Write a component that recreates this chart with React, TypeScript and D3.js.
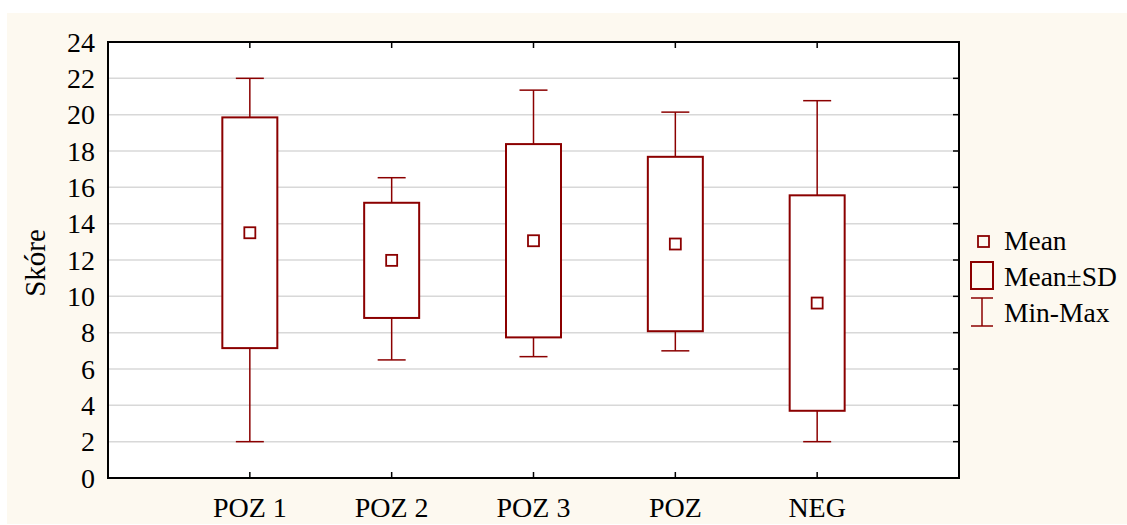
import React from 'react';
import * as d3 from 'd3';

// values
const groups = ['POZ 1', 'POZ 2', 'POZ 3', 'POZ', 'NEG'];
const means = [13.5, 11.98, 13.06, 12.88, 9.63];
const sds = [6.35, 3.17, 5.32, 4.8, 5.93];
const mins = [2, 6.5, 6.68, 7.0, 2.0];
const maxs = [22, 16.53, 21.35, 20.14, 20.77];
const yTicks = [0, 2, 4, 6, 8, 10, 12, 14, 16, 18, 20, 22, 24];
const legendLabels = ['Mean', 'Mean±SD', 'Min-Max'];

const W = 1127;
const H = 525;
const RED = '#8b0000';
const FONT = '"Liberation Serif", "Times New Roman", serif';

const App = () => {
  const left = 108;
  const right = 959;
  const top = 42;
  const bottom = 478;

  const x = d3.scaleLinear().domain([0, groups.length + 1]).range([left, right]);
  const y = d3.scaleLinear().domain([0, 24]).range([bottom, top]);

  const boxHalf = 27.5;
  const capHalf = 14;
  const meanSize = 11;

  return (
    <svg width={W} height={H} style={{ position: 'absolute', left: 0, top: 0 }} fontFamily={FONT}>
      <rect x={0} y={0} width={W} height={H} fill="#ffffff" />
      <rect x={7} y={13} width={W - 7} height={H - 14} fill="#fdf9f0" />
      <rect x={left} y={top} width={right - left} height={bottom - top} fill="#ffffff" />

      {/* grid lines */}
      {yTicks.filter((t) => t > 0 && t < 24).map((t) => (
        <g key={t}>
          <line x1={left} x2={right} y1={y(t)} y2={y(t)} stroke="#d8d8d8" strokeWidth={1.5} />
          <line x1={right - 6} x2={right} y1={y(t)} y2={y(t)} stroke="#000" strokeWidth={1.5} />
        </g>
      ))}

      {/* category ticks top and bottom */}
      {groups.map((g, i) => (
        <g key={g}>
          <line x1={x(i + 1)} x2={x(i + 1)} y1={top} y2={top + 6} stroke="#000" strokeWidth={1.5} />
          <line x1={x(i + 1)} x2={x(i + 1)} y1={bottom - 6} y2={bottom} stroke="#000" strokeWidth={1.5} />
        </g>
      ))}

      {/* boxes */}
      {groups.map((g, i) => {
        const cx = x(i + 1);
        const hi = y(means[i] + sds[i]);
        const lo = y(means[i] - sds[i]);
        return (
          <g key={g} stroke={RED} fill="none">
            <line x1={cx} x2={cx} y1={y(maxs[i])} y2={hi} strokeWidth={1.5} />
            <line x1={cx} x2={cx} y1={lo} y2={y(mins[i])} strokeWidth={1.5} />
            <line x1={cx - capHalf} x2={cx + capHalf} y1={y(maxs[i])} y2={y(maxs[i])} strokeWidth={1.5} />
            <line x1={cx - capHalf} x2={cx + capHalf} y1={y(mins[i])} y2={y(mins[i])} strokeWidth={1.5} />
            <rect x={cx - boxHalf} y={hi} width={boxHalf * 2} height={lo - hi} fill="#fff" strokeWidth={2} />
            <rect
              x={cx - meanSize / 2}
              y={y(means[i]) - meanSize / 2}
              width={meanSize}
              height={meanSize}
              fill="#fff"
              strokeWidth={1.8}
            />
          </g>
        );
      })}

      {/* frame */}
      <rect x={left} y={top} width={right - left} height={bottom - top} fill="none" stroke="#000" strokeWidth={2} />

      {/* y tick labels */}
      {yTicks.map((t) => (
        <text key={t} x={95} y={y(t)} dy="0.35em" textAnchor="end" fontSize={28} fill="#000">
          {t}
        </text>
      ))}

      {/* x labels */}
      {groups.map((g, i) => (
        <text key={g} x={x(i + 1)} y={517} textAnchor="middle" fontSize={28} fill="#000">
          {g}
        </text>
      ))}

      <text transform="translate(45,263) rotate(-90)" textAnchor="middle" fontSize={29} fill="#000">
        Skóre
      </text>

      {/* legend */}
      <g stroke={RED} fill="none">
        <rect x={978} y={236} width={11} height={11} strokeWidth={1.8} />
        <rect x={971} y={262} width={22} height={27} strokeWidth={2} />
        <line x1={982} x2={982} y1={298} y2={326} strokeWidth={1.5} />
        <line x1={971} x2={993} y1={298} y2={298} strokeWidth={1.5} />
        <line x1={971} x2={993} y1={326} y2={326} strokeWidth={1.5} />
      </g>
      {legendLabels.map((l, i) => (
        <text key={l} x={1004} y={250 + i * 36} fontSize={27.5} fill="#000">
          {l}
        </text>
      ))}
    </svg>
  );
};

export default App;
